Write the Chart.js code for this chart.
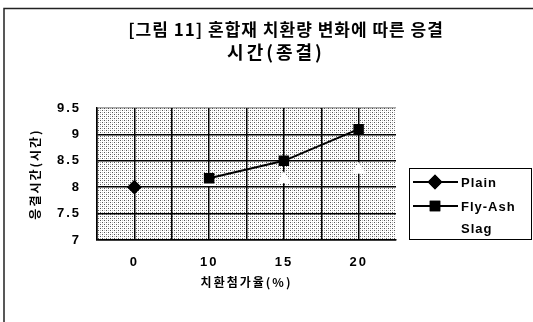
<!DOCTYPE html>
<html><head><meta charset="utf-8">
<script src="https://cdn.jsdelivr.net/npm/chart.js@4"></script>
<style>html,body{margin:0;padding:0;background:#fff}#w{width:533px;height:322px;position:relative}</style>
</head><body><div id="w"><canvas id="c" width="533" height="322"></canvas></div>
<script>
const categories = ['0', '10', '15', '20'];
const plainValues = [8.0, null, null, null];
const flyAshValues = [null, 8.17, 8.5, 9.1];
const slagValues = [null, 8.1, 8.15, 8.33];
const seriesNames = ['Plain', 'Fly-Ash', 'Slag'];
const titleLines = ['[그림 11] 혼합재 치환량 변화에 따른 응결', '시간(종결)'];
const yTitle = '응결시간(시간)';
const xTitle = '치환첨가율(%)';

const KFONT = '"Noto Sans CJK KR", "Liberation Sans", sans-serif';
const LFONT = '"Liberation Sans", Arial, sans-serif';

function pts(arr){ return arr.map((v,i)=>({x:i,y:v})); }

// stipple pattern for plot background
const tile = document.createElement('canvas'); tile.width = 4; tile.height = 4;
const tc = tile.getContext('2d');
tc.fillStyle = '#fff'; tc.fillRect(0,0,4,4);
tc.fillStyle = '#555'; tc.fillRect(0,0,1,1); tc.fillRect(2,2,1,1);
tc.fillStyle = '#bbb'; tc.fillRect(2,0,1,1); tc.fillRect(0,2,1,1);

const bgPlugin = {
  id:'bg',
  beforeUpdate(chart){ chart.ctx.letterSpacing = '2px'; },
  beforeLayout(chart){ chart.ctx.letterSpacing = '2px'; },
  beforeDraw(chart){
    const {ctx, chartArea:a} = chart;
    ctx.letterSpacing = '2px';
    ctx.save();
    ctx.fillStyle = ctx.createPattern(tile,'repeat');
    ctx.fillRect(a.left, a.top, a.right-a.left, a.bottom-a.top);
    ctx.restore();
  },
  afterDraw(chart){
    const ctx = chart.ctx;
    ctx.save();
    // frame
    ctx.strokeStyle = '#222'; ctx.lineWidth = 1.5;
    ctx.beginPath(); ctx.moveTo(4,322); ctx.lineTo(4,8.5); ctx.lineTo(533,8.5); ctx.stroke();
    // title
    ctx.fillStyle = '#000'; ctx.textAlign = 'center'; ctx.textBaseline = 'middle';
    ctx.font = 'bold 17px ' + KFONT;
    ctx.letterSpacing = '1px';
    ctx.fillText(titleLines[0], 286, 30);
    ctx.font = 'bold 18px ' + KFONT;
    ctx.letterSpacing = '3px';
    ctx.fillText(titleLines[1], 276, 52);
    // legend
    const lx = 409, ly = 168, lw = 122, lh = 71;
    ctx.fillStyle = '#fff'; ctx.fillRect(lx, ly, lw, lh);
    ctx.strokeStyle = '#000'; ctx.lineWidth = 1;
    ctx.strokeRect(lx+0.5, ly+0.5, lw, lh);
    const rows = [182, 206, 228];
    ctx.letterSpacing = '1px';
    chart.data.datasets.forEach((ds, i) => {
      const y = rows[i];
      ctx.strokeStyle = ds.borderColor; ctx.lineWidth = 2;
      ctx.beginPath(); ctx.moveTo(413, y); ctx.lineTo(458, y); ctx.stroke();
      Chart.helpers.drawPoint(ctx, {pointStyle: ds.pointStyle, radius: ds.pointRadius, borderWidth: 1}, 435, y);
      ctx.fillStyle = ds.pointBackgroundColor; ctx.strokeStyle = ds.pointBorderColor;
      ctx.fill(); ctx.stroke();
      ctx.fillStyle = '#000'; ctx.textAlign = 'left'; ctx.textBaseline = 'middle';
      ctx.font = 'bold 13px ' + LFONT;
      ctx.fillText(ds.label, 461, y+1);
    });
    ctx.restore();
  }
};

new Chart(document.getElementById('c'), {
  type: 'line',
  data: {
    datasets: [
      {label: seriesNames[0], data: pts(plainValues), borderColor:'#000', backgroundColor:'#000',
       pointBackgroundColor:'#000', pointBorderColor:'#000', pointStyle:'rectRot', pointRadius:6, borderWidth:2},
      {label: seriesNames[1], data: pts(flyAshValues), borderColor:'#000', backgroundColor:'#000',
       pointBackgroundColor:'#000', pointBorderColor:'#000', pointStyle:'rect', pointRadius:6, borderWidth:2},
      {label: seriesNames[2], data: pts(slagValues), borderColor:'#fff', backgroundColor:'#fff',
       pointBackgroundColor:'#fff', pointBorderColor:'#fff', pointStyle:'triangle', pointRadius:6, borderWidth:2, showLine:false}
    ]
  },
  options: {
    responsive:false, animation:false,
    layout:{padding:{left:24, right:137, top:108, bottom:28}},
    plugins:{legend:{display:false}, tooltip:{enabled:false}, title:{display:false}},
    scales:{
      x:{type:'linear', min:-0.5, max:3.5,
         ticks:{stepSize:0.5, color:'#000', padding:15, maxRotation:0, autoSkip:false, font:{family:LFONT, size:13, weight:'bold'},
           callback:(v)=> Number.isInteger(v) ? categories[v] : ''},
         grid:{color:(c)=> c.tick && c.tick.value===3.5 ? 'rgba(0,0,0,0)' : '#000', lineWidth:1.5, drawTicks:false},
         border:{color:'#000', width:1.5},
         title:{display:true, text:xTitle, color:'#000', font:{family:KFONT, size:12, weight:'bold'}, padding:{top:4, bottom:4}},
         afterFit(s){ s.height = 54; }},
      y:{min:7, max:9.5,
         ticks:{stepSize:0.5, color:'#000', padding:16, font:{family:LFONT, size:13, weight:'bold'},
           callback:(v)=> String(v)},
         grid:{color:(c)=> c.tick && c.tick.value===9.5 ? 'rgba(0,0,0,0.35)' : '#000', lineWidth:1.5, drawTicks:false},
         border:{color:'#000', width:1.5},
         title:{display:true, text:yTitle, color:'#000', font:{family:KFONT, size:12, weight:'bold'}, padding:{top:4, bottom:4}},
         afterFit(s){ s.width = 73; }}
    }
  },
  plugins:[bgPlugin]
});
</script></body></html>
